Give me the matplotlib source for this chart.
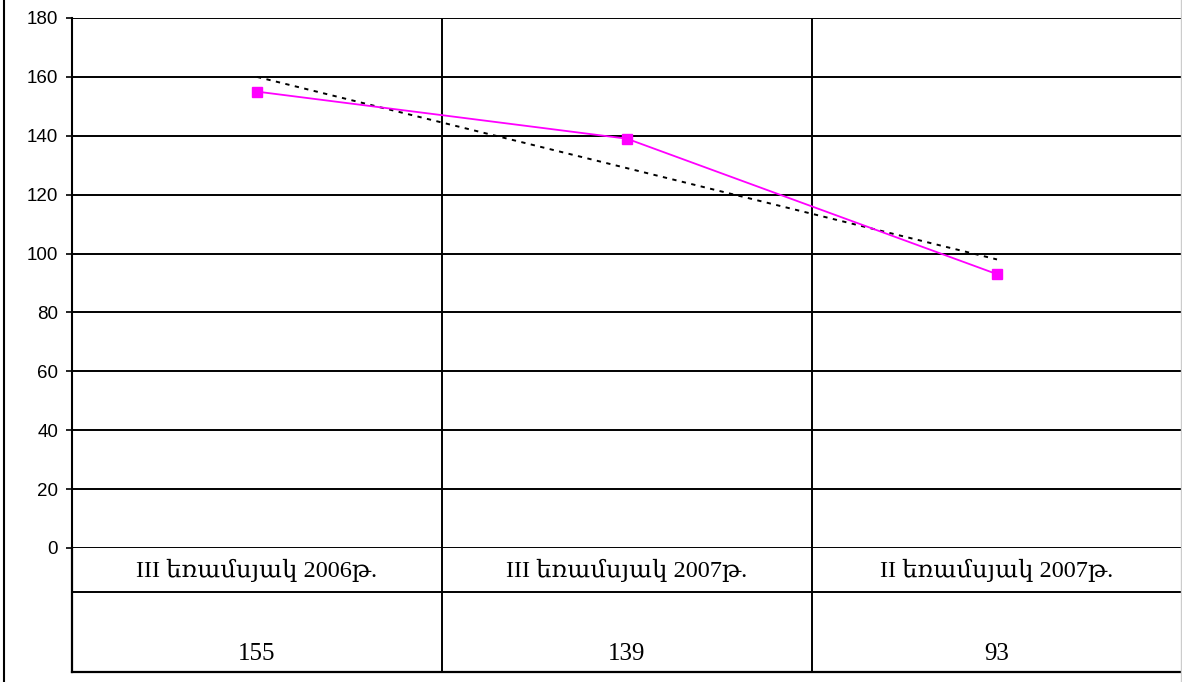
import matplotlib
matplotlib.use("Agg")
import matplotlib.pyplot as plt
import numpy as np
from matplotlib.lines import Line2D

categories = ["III եռամսյակ 2006թ.", "III եռամսյակ 2007թ.", "II եռամսյակ 2007թ."]
values = [155, 139, 93]
yticks = [0, 20, 40, 60, 80, 100, 120, 140, 160, 180]

W, H = 1182, 682
fig = plt.figure(figsize=(W / 100, H / 100), dpi=100)
fig.patch.set_facecolor("white")

L, R, T, B = 72, 1182, 18, 548
TB = 672
ax = fig.add_axes([L / W, (H - B) / H, (R - L) / W, (B - T) / H])
x = np.arange(len(categories))
ax.set_xlim(-0.5, len(categories) - 0.5)
ax.set_ylim(0, 180)
ax.set_yticks(yticks)
ax.set_yticklabels([str(v) for v in yticks], fontsize=13.5, family=["Liberation Sans"])
ax.set_xticks([])
ax.tick_params(axis="y", length=4, width=1.2, pad=6, color="black")
for s in ["top", "right", "bottom"]:
    ax.spines[s].set_visible(False)
ax.spines["left"].set_linewidth(1.5)
for v in yticks:
    ax.axhline(v, color="black", lw=1.4, zorder=1)
for i in range(1, len(categories)):
    ax.axvline(i - 0.5, color="black", lw=1.4, zorder=1)

# trend line
coef = np.polyfit(x, values, 1)
ax.plot(x, np.polyval(coef, x), color="black", lw=1.4, ls=(0, (2.2, 2.8)), zorder=2)
ax.plot(x, values, color="#FF00FF", lw=1.3, marker="s", markersize=7,
        markerfacecolor="#FF00FF", markeredgecolor="#FF00FF", zorder=3)

# data table
tax = fig.add_axes([L / W, (H - TB) / H, (R - L) / W, (TB - B) / H])
tax.set_xlim(-0.5, len(categories) - 0.5)
tax.set_ylim(1, 0)
tax.axis("off")
row = (592 - B) / (TB - B)
tax.plot([-0.5, 2.5], [row, row], color="black", lw=1.4, clip_on=False)
tax.plot([-0.5, 2.5], [1, 1], color="black", lw=1.6, clip_on=False)
tax.plot([-0.5, -0.5], [0, 1], color="black", lw=1.6, clip_on=False)
for i in range(1, len(categories)):
    tax.plot([i - 0.5, i - 0.5], [0, 1], color="black", lw=1.4, clip_on=False)
serif = ["Liberation Serif", "DejaVu Serif", "DejaVu Sans"]
for i, (c, v) in enumerate(zip(categories, values)):
    tax.text(i, (570 - B) / (TB - B), c, ha="center", va="center", fontsize=17.5, family=serif)
    tax.text(i, (654 - B) / (TB - B), str(v), ha="center", va="center", fontsize=18, family=serif)

# outer frame lines
fig.add_artist(Line2D([3.5 / W, 3.5 / W], [0, 1], color="black", lw=1.5, transform=fig.transFigure))
fig.add_artist(Line2D([1180.5 / W, 1180.5 / W], [0, 1], color="#cccccc", lw=1, transform=fig.transFigure))

fig.savefig("out.png", dpi=100, facecolor="white")
